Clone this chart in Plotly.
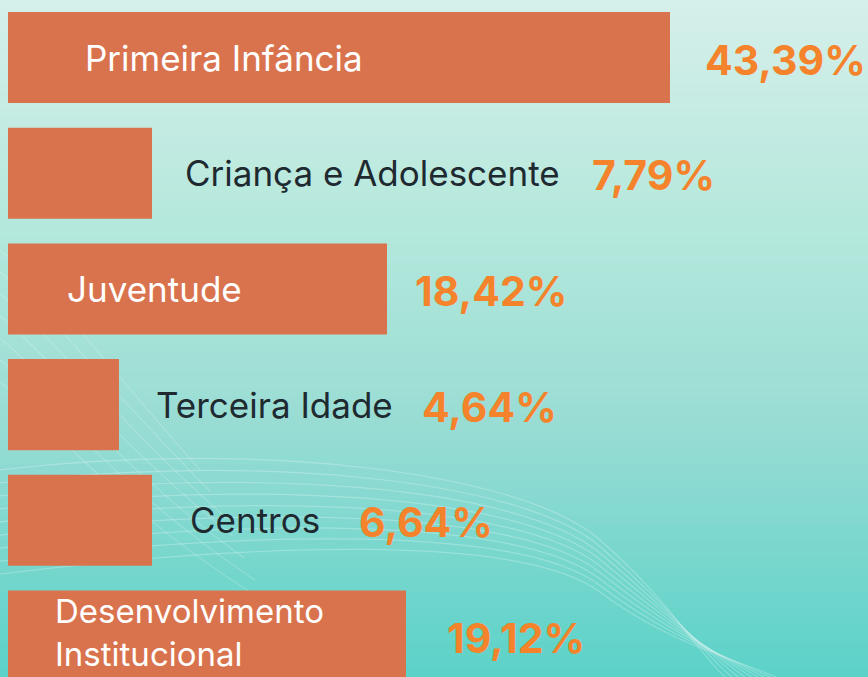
import plotly.graph_objects as go

# data
categorias = ["Primeira Infância", "Criança e Adolescente", "Juventude",
              "Terceira Idade", "Centros", "Desenvolvimento<br>Institucional"]
percentuais = ["43,39%", "7,79%", "18,42%", "4,64%", "6,64%", "19,12%"]
comprimento = [662, 144, 379, 111, 144, 398]  # bar length as drawn (design units)

W, H = 868, 677
BAR = "#D9734E"
PCT = "#F5832C"
DARK = "#1E2A30"
FONT = "Inter, Lato, sans-serif"

# label placement (left edge in x units, white when inside the bar)
lab_x = [75, 175, 57, 146, 180, 45]
lab_in = [True, False, True, False, False, True]
pct_x = [695, 582, 405, 412, 349, 437]

def px(x, y):
    return f"{x / W:.4f},{1 - y / H:.4f}"

# soft vertical gradient, built from thin bands
stops = [(0.0, (214, 239, 234)), (0.34, (180, 232, 220)), (0.63, (152, 220, 212)), (1.0, (92, 210, 200))]
def col(t):
    for (a, ca), (b, cb) in zip(stops, stops[1:]):
        if t <= b:
            f = (t - a) / (b - a)
            return "rgb(%d,%d,%d)" % tuple(round(ca[i] + (cb[i] - ca[i]) * f) for i in range(3))
    return "rgb(%d,%d,%d)" % stops[-1][1]

shapes = []
N = 80
for i in range(N):
    shapes.append(dict(type="rect", xref="paper", yref="paper", x0=0, x1=1,
                       y0=1 - (i + 1) / N, y1=1 - i / N + 0.002,
                       fillcolor=col((i + 0.5) / N), line_width=0, layer="below"))

# faint contour lines (decoration)
for k in range(9):
    o = k * 13
    d = ("M " + px(0, 470 + o) + " C " + px(250, 440 + o) + " " + px(520, 470 + o * 0.6) + " "
         + px(600, 540 + o * 0.5) + " S " + px(700 + k * 6, 660) + " " + px(740 + k * 8, 690))
    shapes.append(dict(type="path", xref="paper", yref="paper", path=d,
                       line=dict(color="rgba(255,255,255,0.25)", width=1.2), layer="below"))
for k in range(7):
    o = k * 22
    d = "M " + px(0, 250 + o) + " C " + px(60, 300 + o) + " " + px(120, 380 + o) + " " + px(200 + o * 0.5, 470 + o)
    shapes.append(dict(type="path", xref="paper", yref="paper", path=d,
                       line=dict(color="rgba(255,255,255,0.2)", width=1.1), layer="below"))

y_idx = list(range(len(categorias)))

fig = go.Figure(go.Bar(
    x=comprimento, y=y_idx, orientation="h", width=0.787,
    marker=dict(color=BAR, line_width=0), hoverinfo="skip",
))

ann = []
for i, c in enumerate(categorias):
    dois = "<br>" in c
    ann.append(dict(x=lab_x[i], y=i, xref="x", yref="y", text=c, showarrow=False,
                    xanchor="left", yanchor="middle", align="left", yshift=4 if dois else 0,
                    font=dict(family=FONT, size=33 if dois else 35,
                              color="white" if lab_in[i] else DARK)))
    ann.append(dict(x=pct_x[i], y=i, xref="x", yref="y", text=percentuais[i], showarrow=False,
                    xanchor="left", yanchor="middle", yshift=-2,
                    font=dict(family=FONT, size=41, color=PCT, weight="bold")))

fig.update_layout(
    width=W, height=H, margin=dict(l=0, r=0, t=0, b=0),
    paper_bgcolor="#5CD2C8", plot_bgcolor="rgba(0,0,0,0)",
    showlegend=False, shapes=shapes, annotations=ann,
    xaxis=dict(range=[-8, 860], visible=False, fixedrange=True),
    yaxis=dict(range=[5.354, -0.497], visible=False, fixedrange=True),
)

fig.write_html("out.html", config={"displayModeBar": False},
               post_script="document.body.style.margin='0px';")
